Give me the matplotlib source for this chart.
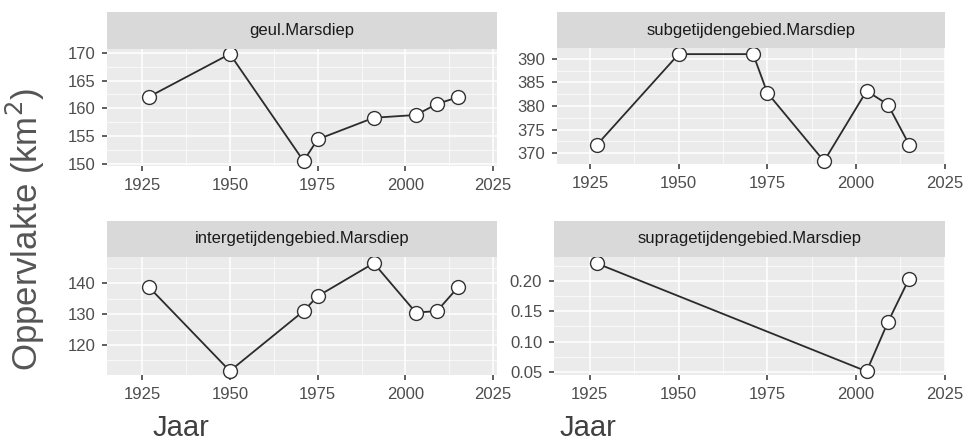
import matplotlib
matplotlib.use("Agg")
import matplotlib.pyplot as plt
from matplotlib.ticker import MultipleLocator

plt.rcParams['font.family'] = ['Liberation Sans', 'DejaVu Sans']

# data
years = [1927, 1950, 1971, 1975, 1991, 2003, 2009, 2015]
geul = [162.1, 169.8, 150.5, 154.4, 158.3, 158.8, 160.8, 162.0]
subgetij = [371.8, 391.0, 391.0, 382.8, 368.3, 383.2, 380.3, 371.8]
intergetij = [138.7, 111.6, 131.0, 135.8, 146.5, 130.5, 131.0, 138.7]
supra_years = [1927, 2003, 2009, 2015]
supragetij = [0.229, 0.051, 0.132, 0.204]

titles = ["geul.Marsdiep", "subgetijdengebied.Marsdiep",
          "intergetijdengebied.Marsdiep", "supragetijdengebied.Marsdiep"]

W, H = 970, 443
fig = plt.figure(figsize=(W / 100, H / 100), dpi=100)


def box(x0, x1, y0, y1):
    return [x0 / W, 1 - y1 / H, (x1 - x0) / W, (y1 - y0) / H]


# panel pixel boxes: (left, right, strip top, panel top, panel bottom)
panels = [
    (107, 497, 12, 49, 166),
    (557, 945, 12, 48, 164),
    (107, 497, 221, 257, 375),
    (554, 945, 221, 257, 375),
]
xlims = [(1915.0, 2026.1), (1915.7, 2025.1), (1915.0, 2026.1), (1914.9, 2025.1)]
ylims = [(149.6, 170.7), (367.7, 392.3), (110.3, 148.5), (0.045, 0.2396)]
ymajor = [5, 5, 10, 0.05]
xs = [years, years, years, supra_years]
ys = [geul, subgetij, intergetij, supragetij]
yfmt = ["{:.0f}", "{:.0f}", "{:.0f}", "{:.2f}"]

for i, (l, r, st, pt, pb) in enumerate(panels):
    ax = fig.add_axes(box(l, r, pt, pb))
    ax.set_facecolor("#ebebeb")
    for s in ax.spines.values():
        s.set_visible(False)
    ax.set_xlim(*xlims[i])
    ax.set_ylim(*ylims[i])
    ax.xaxis.set_major_locator(MultipleLocator(25))
    ax.xaxis.set_minor_locator(MultipleLocator(12.5))
    ax.yaxis.set_major_locator(MultipleLocator(ymajor[i]))
    ax.yaxis.set_minor_locator(MultipleLocator(ymajor[i] / 2))
    ax.grid(which="major", color="white", lw=1.1)
    ax.grid(which="minor", color="white", lw=0.5)
    ax.set_axisbelow(True)
    ax.tick_params(which="minor", length=0)
    ax.tick_params(which="major", length=3.5, width=1.1, color="#333333",
                   labelcolor="#4d4d4d", labelsize=12, pad=5)
    ax.set_yticks([t for t in ax.get_yticks() if ylims[i][0] <= t <= ylims[i][1]])
    ax.set_yticklabels([yfmt[i].format(t) for t in ax.get_yticks()])
    ax.set_xticks([1925, 1950, 1975, 2000, 2025])
    ax.set_xlim(*xlims[i])
    ax.set_ylim(*ylims[i])
    ax.plot(xs[i], ys[i], color="#2b2b2b", lw=1.3, marker="o", ms=10,
            mfc="white", mec="#333333", mew=1.0, clip_on=False, zorder=3)

    sx = fig.add_axes(box(l, r, st, pt))
    sx.set_facecolor("#d9d9d9")
    sx.set_xticks([])
    sx.set_yticks([])
    for s in sx.spines.values():
        s.set_visible(False)
    sx.text(0.5, 0.5, titles[i], ha="center", va="center", fontsize=12,
            color="#1a1a1a", transform=sx.transAxes)

fig.text(25 / W, 1 - 229 / H, "Oppervlakte (km$^2$)", rotation=90,
         ha="center", va="center", fontsize=25, color="#555555")
fig.text(181 / W, 1 - 428 / H, "Jaar", ha="center", va="center",
         fontsize=21, color="#404040")
fig.text(588 / W, 1 - 428 / H, "Jaar", ha="center", va="center",
         fontsize=21, color="#404040")

fig.savefig("out.png", dpi=100)
